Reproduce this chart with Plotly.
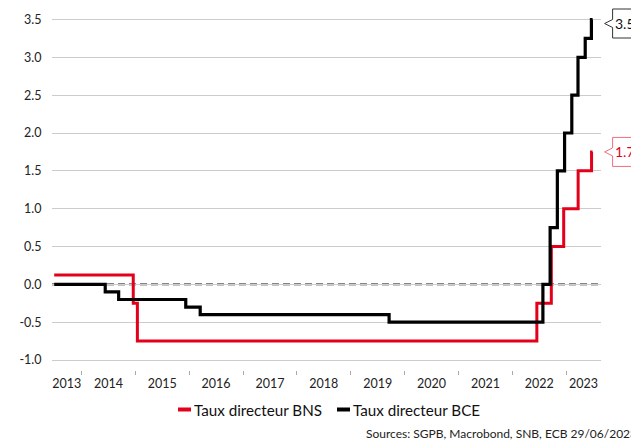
import plotly.graph_objects as go
import pandas as pd

# ---- data ----
bns_dates = ["2013-06-30", "2014-12-18", "2015-01-15", "2022-06-16", "2022-09-22",
             "2022-12-15", "2023-03-23", "2023-06-22", "2023-06-29"]
bns_values = [0.125, -0.25, -0.75, -0.25, 0.5, 1.0, 1.5, 1.75, 1.75]

bce_dates = ["2013-06-30", "2014-06-11", "2014-09-10", "2015-12-09", "2016-03-16",
             "2019-09-18", "2022-07-27", "2022-09-14", "2022-11-02", "2022-12-21",
             "2023-02-08", "2023-03-22", "2023-05-10", "2023-06-21", "2023-06-29"]
bce_values = [0.0, -0.1, -0.2, -0.3, -0.4, -0.5, 0.0, 0.75, 1.5, 2.0, 2.5, 3.0, 3.25, 3.5, 3.5]

series_names = ["Taux directeur BNS", "Taux directeur BCE"]
y_tick_values = [-1.0, -0.5, 0.0, 0.5, 1.0, 1.5, 2.0, 2.5, 3.0, 3.5]
y_tick_labels = ["-1.0", "-0.5", "0.0", "0.5", "1.0", "1.5", "2.0", "2.5", "3.0", "3.5"]
years = list(range(2013, 2024))

RED = "#e3001b"
BLACK = "#000000"
FONT = "Lato"

W, H = 631, 432
M = dict(l=44, r=38, t=10, b=70)
PW = W - M["l"] - M["r"]
PH = H - M["t"] - M["b"]

x_range = [pd.Timestamp("2013-06-15"), pd.Timestamp("2023-08-25")]
y_range = [-1.132, 3.52]

# year labels centred in visible part of each year, tick marks at year boundaries
label_pos, boundaries = [], []
for yr in years:
    s = max(pd.Timestamp(f"{yr}-01-01"), x_range[0])
    e = min(pd.Timestamp(f"{yr + 1}-01-01"), x_range[1])
    label_pos.append(s + (e - s) / 2)
    if yr > years[0]:
        boundaries.append(pd.Timestamp(f"{yr}-01-01"))

fig = go.Figure()
fig.add_trace(go.Scatter(x=bns_dates, y=bns_values, mode="lines", line_shape="hv",
                         line=dict(color=RED, width=3), name=series_names[0],
                         showlegend=False))
fig.add_trace(go.Scatter(x=bce_dates, y=bce_values, mode="lines", line_shape="hv",
                         line=dict(color=BLACK, width=3.2), name=series_names[1],
                         showlegend=False))

# zero line dashed
fig.add_shape(type="line", xref="paper", x0=0, x1=1, yref="y", y0=0, y1=0,
              line=dict(color="#858585", width=2.5, dash="7px,4px"), layer="between")


def frac_x(date):
    d = pd.Timestamp(date)
    return (d - x_range[0]) / (x_range[1] - x_range[0])


def frac_y(v):
    return (v - y_range[0]) / (y_range[1] - y_range[0])


def px_x(p):
    return (p - M["l"]) / PW


def px_y(p):
    return 1 - (p - M["t"]) / PH


# callouts on last values
def callout(date, value, color, border, dy):
    path = (f"M12,{dy} L20,{dy + 4} L20,{dy + 14.5} L90,{dy + 14.5} "
            f"L90,{dy - 14.5} L20,{dy - 14.5} L20,{dy - 4} Z")
    fig.add_shape(type="path", xref="paper", yref="paper", xsizemode="pixel",
                  ysizemode="pixel", xanchor=frac_x(date), yanchor=frac_y(value),
                  path=path, line=dict(color=border, width=1), fillcolor="white",
                  layer="above")
    fig.add_annotation(x=date, y=value, xref="x", yref="y", xshift=20, yshift=dy,
                       text=f"{value:.2f}", showarrow=False, xanchor="left",
                       yanchor="middle", font=dict(family=FONT, size=14, color=color))


callout(bce_dates[-1], bce_values[-1], "#111111", "#333333", -4)
callout(bns_dates[-1], bns_values[-1], RED, "#f07080", 0)

# legend (short line symbols like the original)
legend_y = px_y(401.5)
for name, color, x0 in [(series_names[0], RED, 170), (series_names[1], BLACK, 329)]:
    fig.add_shape(type="line", xref="paper", yref="paper", x0=px_x(x0), x1=px_x(x0 + 13),
                  y0=legend_y, y1=legend_y, line=dict(color=color, width=4))
    fig.add_annotation(text=name, xref="paper", yref="paper", x=px_x(x0 + 14),
                       y=legend_y, xanchor="left", yanchor="middle", showarrow=False,
                       font=dict(family=FONT, size=15.2, color="#111111"))

fig.add_annotation(text="Sources: SGPB, Macrobond, SNB, ECB 29/06/2023",
                   xref="paper", yref="paper", x=px_x(356), y=px_y(425), xanchor="left",
                   yanchor="middle", showarrow=False,
                   font=dict(family=FONT, size=12, color="#222222"))

fig.update_layout(
    width=W, height=H,
    margin=dict(**M, autoexpand=False),
    paper_bgcolor="white", plot_bgcolor="white",
    font=dict(family=FONT, size=12, color="#222222"),
    showlegend=False,
    xaxis=dict(type="date", range=x_range, showgrid=False, zeroline=False,
               showline=False, tickmode="array", tickvals=label_pos,
               ticktext=[str(y) for y in years], ticks="", ticklabelstandoff=4,
               tickfont=dict(family=FONT, size=12.5, color="#222222"),
               minor=dict(tickmode="array", tickvals=boundaries, ticks="outside",
                          ticklen=4, tickwidth=1, tickcolor="#aaaaaa", showgrid=False)),
    yaxis=dict(range=y_range, tickmode="array", tickvals=y_tick_values,
               ticktext=y_tick_labels, showgrid=True, gridcolor="#cccccc", gridwidth=1,
               zeroline=False, showline=False, ticks="outside", ticklen=7,
               tickcolor="rgba(0,0,0,0)",
               tickfont=dict(family=FONT, size=12.5, color="#222222")),
)

fig.write_html("out.html")
